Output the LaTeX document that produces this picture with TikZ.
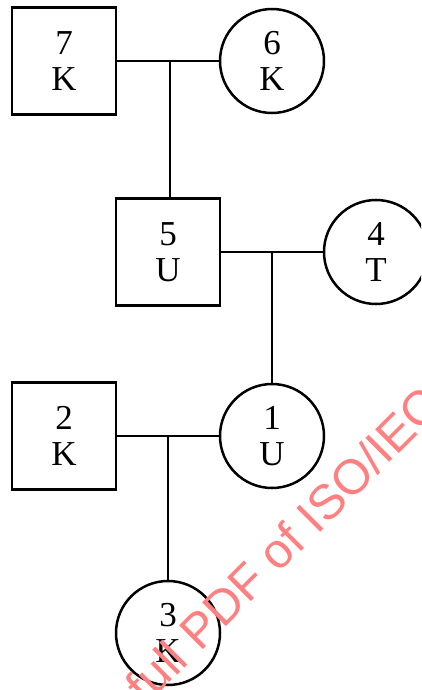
\documentclass[tikz,border=0pt]{standalone}
\usepackage{fontspec}
\setmainfont{Liberation Serif}
\newfontfamily\wmfont{Liberation Sans}
\begin{document}
\begin{tikzpicture}[x=1pt,y=-1pt,
  person/.style={draw,line width=2.5pt,align=center,font=\fontsize{35}{36}\selectfont,inner sep=0pt},
  male/.style={person,rectangle,minimum width=104pt,minimum height=107pt},
  female/.style={person,circle,minimum size=104pt},
  link/.style={line width=1.2pt}]
\useasboundingbox (0,0) rectangle (421,690);
\clip (0,0) rectangle (421,690);
\node[male]   (p7) at (64,61)   {7\\K};
\node[female] (p6) at (272,61)  {6\\K};
\node[male]   (p5) at (168,252) {5\\U};
\node[female] (p4) at (376,252) {4\\T};
\node[male]   (p2) at (64,436)  {2\\K};
\node[female] (p1) at (272,436) {1\\U};
\node[female] (p3) at (168,633) {3\\K};
\coordinate (m76) at (170,61);
\coordinate (m54) at (272,252);
\coordinate (m21) at (168,436);
\draw[link] (p7.east) -- (p6.west);
\draw[link] (m76) -- (m76 |- p5.north);
\draw[link] (p5.east) -- (p4.west);
\draw[link] (m54) -- (p1.north);
\draw[link] (p2.east) -- (p1.west);
\draw[link] (m21) -- (p3.north);
\node[text=red!50,rotate=45,font=\wmfont\fontsize{49}{49}\selectfont,inner sep=0pt] (wm) at (283,545) {full PDF of ISO/IEC};
\end{tikzpicture}
\end{document}
